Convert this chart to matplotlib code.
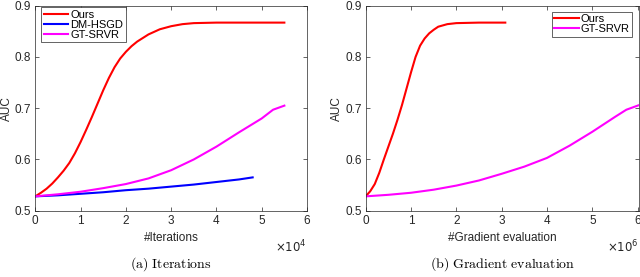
import matplotlib
matplotlib.use("Agg")
import matplotlib.pyplot as plt

# ---- data: panel (a) x in units of 1e4 iterations
ours_it_x = [0, 0.125, 0.25, 0.375, 0.5, 0.625, 0.75, 0.875, 1.0, 1.125, 1.25, 1.375, 1.5, 1.625, 1.75,
             1.875, 2.0, 2.125, 2.25, 2.5, 2.75, 3.0, 3.25, 3.5, 4.0, 4.5, 5.0, 5.5]
ours_it_y = [0.528, 0.535, 0.543, 0.553, 0.565, 0.578, 0.593, 0.612, 0.634, 0.658, 0.683, 0.709, 0.735,
             0.759, 0.780, 0.797, 0.810, 0.821, 0.830, 0.844, 0.854, 0.860, 0.864, 0.866, 0.867, 0.867,
             0.867, 0.867]
dm_it_x = [0, 0.5, 1.0, 1.5, 2.0, 2.5, 3.0, 3.5, 4.0, 4.5, 4.8]
dm_it_y = [0.528, 0.530, 0.533, 0.536, 0.540, 0.543, 0.547, 0.551, 0.556, 0.561, 0.565]
gt_it_x = [0, 0.5, 1.0, 1.5, 2.0, 2.5, 3.0, 3.5, 4.0, 4.5, 5.0, 5.25, 5.5]
gt_it_y = [0.528, 0.532, 0.537, 0.544, 0.552, 0.563, 0.579, 0.600, 0.625, 0.653, 0.680, 0.697, 0.705]

# ---- data: panel (b) x in units of 1e6 gradient evaluations
ours_gr_x = [0, 0.1, 0.2, 0.3, 0.4, 0.5, 0.6, 0.7, 0.8, 0.9, 1.0, 1.1, 1.2, 1.3, 1.4, 1.5, 1.6, 1.8,
             2.0, 2.5, 3.08]
ours_gr_y = [0.528, 0.538, 0.552, 0.574, 0.600, 0.625, 0.650, 0.677, 0.706, 0.738, 0.770, 0.800, 0.822,
             0.836, 0.846, 0.853, 0.859, 0.864, 0.866, 0.867, 0.867]
gt_gr_x = [0, 0.5, 1.0, 1.5, 2.0, 2.5, 3.0, 3.5, 4.0, 4.5, 5.0, 5.5, 5.75, 6.03]
gt_gr_y = [0.528, 0.531, 0.535, 0.541, 0.549, 0.559, 0.572, 0.586, 0.603, 0.627, 0.654, 0.683, 0.697, 0.706]

yticks = [0.5, 0.6, 0.7, 0.8, 0.9]
xticks = [0, 1, 2, 3, 4, 5, 6]

RED = (1, 0, 0)
BLUE = (0, 0, 1)
MAG = (1, 0, 1)
AX_C = "#262626"
FS = 8.5
LFS = 8.0
LW = 1.5

plt.rcParams['font.family'] = ['Liberation Sans', 'DejaVu Sans']

fig = plt.figure(figsize=(6.4, 2.77), dpi=100)
W, H = 640.0, 277.0

def mk_axes(l, r, t, b):
    return fig.add_axes([l / W, 1 - b / H, (r - l) / W, (b - t) / H])

ax1 = mk_axes(35.3, 307.0, 5.7, 210.7)
ax2 = mk_axes(365.7, 639.0, 5.7, 210.7)

def style(ax, xmax, xlabel, exp, cap):
    ax.set_xlim(0, xmax)
    ax.set_ylim(0.5, 0.9)
    ax.set_xticks(xticks)
    ax.set_xticklabels([str(t) for t in xticks])
    ax.set_yticks(yticks)
    ax.set_yticklabels([f"{t:.1f}" for t in yticks])
    ax.tick_params(direction='in', length=3, width=0.5, colors=AX_C, labelsize=FS,
                   top=True, right=True, pad=3)
    for s in ax.spines.values():
        s.set_linewidth(0.5)
        s.set_color(AX_C)
    ax.set_xlabel(xlabel, fontsize=FS, color=AX_C, labelpad=4)
    ax.set_ylabel("AUC", fontsize=FS, color=AX_C, labelpad=1.5)
    ax.text(1.0, -0.135, r"$\times10^{%d}$" % exp, transform=ax.transAxes,
            ha='right', va='top', fontsize=FS, color=AX_C, math_fontfamily='dejavusans')
    ax.text(0.5, -0.215, cap, transform=ax.transAxes, ha='center', va='top',
            fontsize=10, color='black', math_fontfamily='cm')

def legend(ax, loc, anchor):
    leg = ax.legend(loc=loc, bbox_to_anchor=anchor, borderaxespad=0,
                    fontsize=LFS, handlelength=2.2, handletextpad=0.2, labelspacing=0.0,
                    borderpad=0.22, fancybox=False, framealpha=1, edgecolor=AX_C)
    leg.get_frame().set_linewidth(0.5)

ax1.plot(ours_it_x, ours_it_y, color=RED, lw=LW, label='Ours')
ax1.plot(dm_it_x, dm_it_y, color=BLUE, lw=LW, label='DM-HSGD')
ax1.plot(gt_it_x, gt_it_y, color=MAG, lw=LW, label='GT-SRVR')
style(ax1, 6, "#Iterations", 4, r"$\mathrm{(a)\ Iterations}$")
legend(ax1, 'upper left', (0.022, 0.992))

ax2.plot(ours_gr_x, ours_gr_y, color=RED, lw=LW, label='Ours')
ax2.plot(gt_gr_x, gt_gr_y, color=MAG, lw=LW, label='GT-SRVR')
style(ax2, 6.03, "#Gradient evaluation", 6, r"$\mathrm{(b)\ Gradient\ evaluation}$")
legend(ax2, 'upper right', (0.9755, 0.971))

fig.savefig("out.png", dpi=100)
